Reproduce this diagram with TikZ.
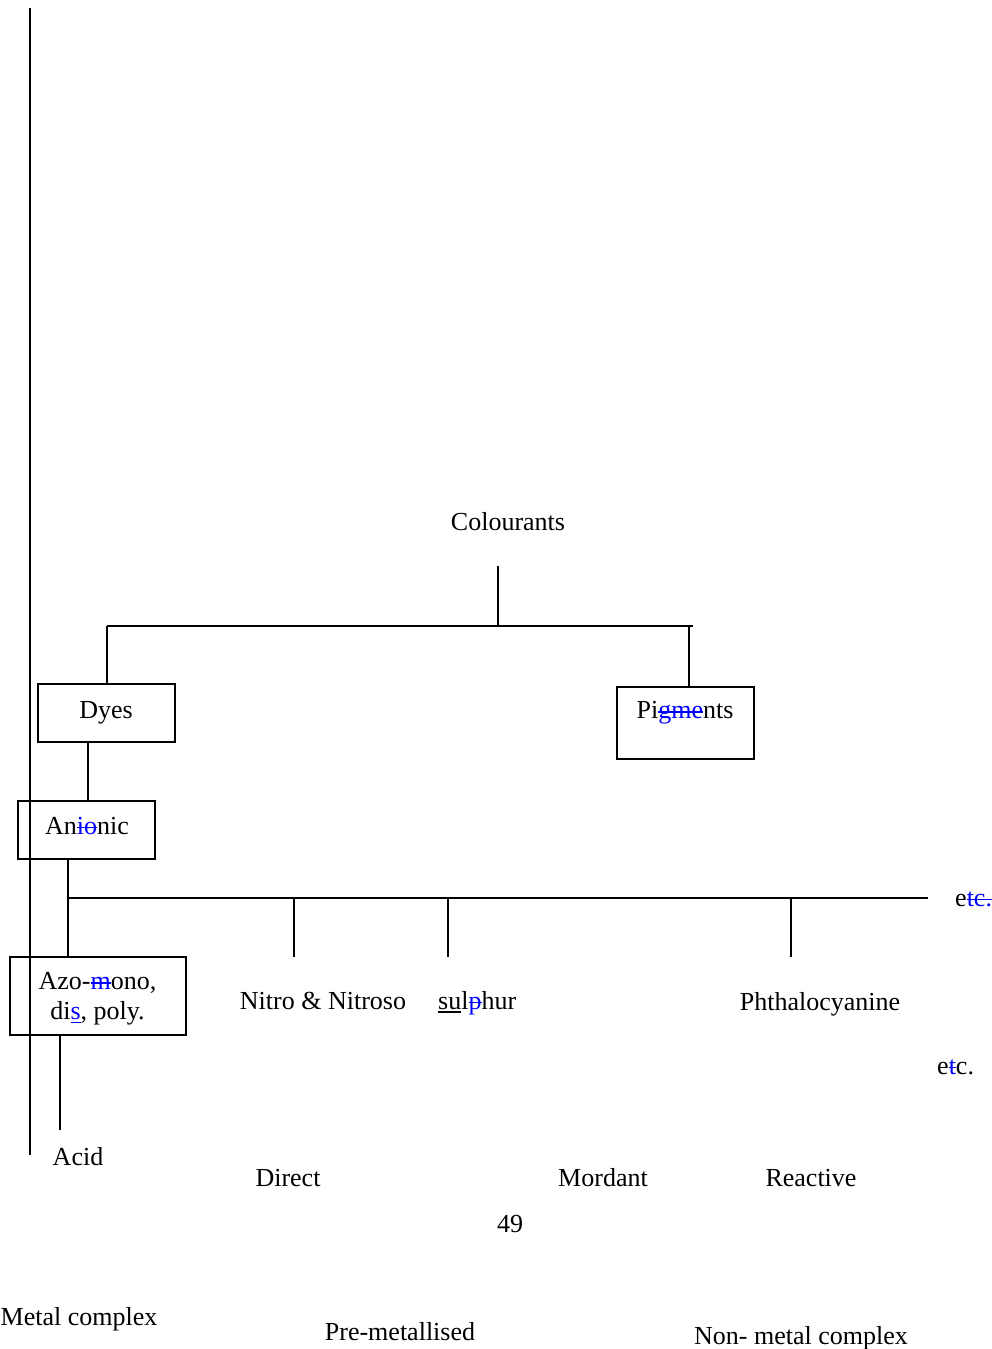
\documentclass[tikz,border=0pt]{standalone}
\usepackage{fontspec}
\setmainfont{Liberation Serif}
\newcommand{\delt}[1]{{\color{blue}\setbox0\hbox{#1}\rlap{\vrule height 7.3pt depth -5.8pt width \wd0}\box0}}
\newcommand{\undl}[1]{{\setbox0\hbox{#1}\rlap{\vrule height -2.2pt depth 3.5pt width \wd0}\box0}}
\newcommand{\inst}[1]{{\color{blue}\undl{#1}}}
\begin{document}
\begin{tikzpicture}[x=1pt,y=-1pt,
  every node/.style={font=\fontsize{26}{30}\selectfont, inner sep=0pt},
  txt/.style={anchor=base},
  boxnode/.style={draw, line width=1.3pt, inner sep=0pt},
  conn/.style={line width=1.3pt}]
\useasboundingbox (0,0) rectangle (991,1349);

% long vertical line at left
\coordinate (lt) at (30,8);
\coordinate (lb) at (30,1155);
\draw[conn] (lt) -- (lb);

% Colourants
\node[txt] (col) at (508,530) {Colourants};
\coordinate (ct) at (498,566);
\coordinate (cj) at (498,626);
\coordinate (hl) at (107,626);
\coordinate (hr) at (693,626);
\coordinate (pj) at (689,626);
\draw[conn] (ct) -- (cj);
\draw[conn] (hl) -- (hr);

% Dyes box
\node[boxnode, minimum width=137pt, minimum height=58pt] (dyes) at (106.5,713) {};
\node[txt] (dyest) at (106,718) {Dyes};
\draw[conn] (hl) -- (hl |- dyes.north);

% Pigments box
\node[boxnode, minimum width=137pt, minimum height=72pt] (pig) at (685.5,723) {};
\node[txt] (pigt) at (685,718.5) {Pi\delt{gme}nts};
\draw[conn] (pj) -- (pj |- pig.north);

% Anionic box
\node[boxnode, minimum width=137pt, minimum height=58pt] (an) at (86.5,830) {};
\node[txt] (ant) at (87,834) {An\delt{io}nic};
\draw[conn] ([xshift=-18.5pt]dyes.south) -- ([xshift=1.5pt]an.north);

% Azo box
\node[boxnode, minimum width=176pt, minimum height=78pt] (azo) at (98,996) {};
\node[anchor=center, align=center] (azot) at (97.5,999) {Azo-\delt{m}ono,\\di\inst{s}, poly.};
\coordinate (bl) at (68,898);
\coordinate (br) at (928,898);
\draw[conn] (bl |- an.south) -- (bl |- azo.north);
\draw[conn] (bl) -- (br);

% drops
\coordinate (d1) at (294,898);
\coordinate (d2) at (448,898);
\coordinate (d3) at (791,898);
\coordinate (d1b) at (294,957);
\coordinate (d2b) at (448,957);
\coordinate (d3b) at (791,957);
\draw[conn] (d1) -- (d1b);
\draw[conn] (d2) -- (d2b);
\draw[conn] (d3) -- (d3b);

\node[txt, anchor=base west] (etc1) at (955,906) {e\delt{tc.}};

% Azo down line
\coordinate (at) at (60,1130);
\draw[conn] ([xshift=-38pt]azo.south) -- (at);

% labels
\node[txt] (nitro) at (323,1009) {Nitro \& Nitroso};
\node[txt, anchor=base west] (sul) at (438,1009) {\undl{su}l\delt{p}hur};
\node[txt] (phth) at (820,1010) {Phthalocyanine};
\node[txt, anchor=base west] (etc2) at (937,1074) {e\delt{t}c.};
\node[txt] (acid) at (78,1165) {Acid};
\node[txt] (direct) at (288,1186) {Direct};
\node[txt] (mord) at (603,1186) {Mordant};
\node[txt] (react) at (811,1186) {Reactive};
\node[txt] (pg) at (510,1232) {49};
\node[txt, anchor=base west] (metal) at (0.5,1325) {Metal complex};
\node[txt] (pre) at (400,1340) {Pre-metallised};
\node[txt] (non) at (801,1344) {Non- metal complex};
\end{tikzpicture}
\end{document}
